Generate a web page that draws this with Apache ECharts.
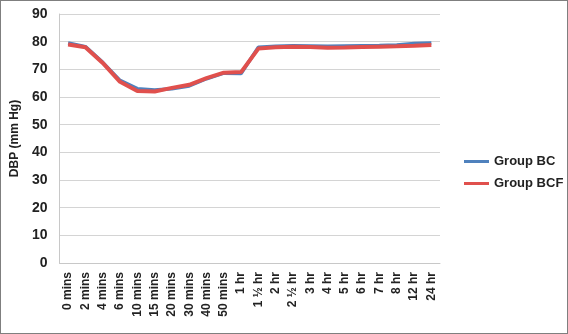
<!DOCTYPE html>
<html>
<head>
<meta charset="utf-8">
<script src="https://cdn.jsdelivr.net/npm/echarts@6/dist/echarts.min.js"></script>
<style>
  html, body { margin: 0; padding: 0; background: #fff; }
  #chart { width: 566px; height: 332px; border: 1px solid #7f7f7f; }
</style>
</head>
<body>
<div id="chart"></div>
<script>
// 时间点
var categories = ['0 mins', '2 mins', '4 mins', '6 mins', '10 mins', '15 mins', '20 mins', '30 mins',
  '40 mins', '50 mins', '1 hr', '1 ½ hr', '2 hr', '2 ½ hr', '3 hr', '4 hr', '5 hr', '6 hr',
  '7 hr', '8 hr', '12 hr', '24 hr']

// DBP 数值
var groupBC = [79.5, 78.2, 72.5, 66, 63, 62.5, 63, 64, 66.6, 68.6, 68.5,
  78, 78.3, 78.5, 78.4, 78.3, 78.4, 78.5, 78.6, 78.8, 79.3, 79.5]
var groupBCF = [79, 78, 72.3, 65.5, 62.2, 62, 63.3, 64.4, 66.8, 68.8, 69,
  77.5, 78, 78.2, 78.1, 77.8, 77.9, 78.1, 78.2, 78.3, 78.5, 78.8]

var myChart = echarts.init(document.getElementById('chart'))

var option = {
  backgroundColor: '#fff',
  animation: false,
  grid: {
    left: 56,
    right: 127,
    top: 13,
    bottom: 70,
  },
  legend: {
    orient: 'vertical',
    left: 458,
    top: 149,
    itemWidth: 25,
    itemHeight: 3,
    itemGap: 9,
    icon: 'rect',
    textStyle: {
      fontFamily: 'Liberation Sans',
      fontWeight: 'bold',
      fontSize: 13,
      color: '#222',
    },
    data: ['Group BC', 'Group BCF'],
  },
  xAxis: {
    type: 'category',
    data: categories,
    boundaryGap: true,
    axisLine: { lineStyle: { color: '#c8c8c8' } },
    axisTick: { show: false },
    axisLabel: {
      rotate: 90,
      interval: 0,
      margin: 9,
      fontFamily: 'Liberation Sans',
      fontWeight: 'bold',
      fontSize: 12,
      color: '#222',
    },
  },
  yAxis: {
    type: 'value',
    min: 0,
    max: 90,
    interval: 10,
    name: 'DBP (mm Hg)',
    nameLocation: 'middle',
    nameGap: 38,
    nameTextStyle: {
      fontFamily: 'Liberation Sans',
      fontWeight: 'bold',
      fontSize: 12,
      color: '#222',
    },
    axisLine: { show: true, lineStyle: { color: '#c8c8c8' } },
    axisTick: { show: false },
    axisLabel: {
      margin: 12,
      fontFamily: 'Liberation Sans',
      fontWeight: 'bold',
      fontSize: 14,
      color: '#222',
    },
    splitLine: { lineStyle: { color: '#d4d4d4', width: 1 } },
  },
  series: [
    {
      name: 'Group BC',
      type: 'line',
      data: groupBC,
      showSymbol: false,
      symbol: 'none',
      color: '#4f81bd',
      lineStyle: { width: 3.5, color: '#4f81bd' },
    },
    {
      name: 'Group BCF',
      type: 'line',
      data: groupBCF,
      showSymbol: false,
      symbol: 'none',
      color: '#e0504d',
      lineStyle: { width: 4, color: '#e0504d' },
    },
  ],
}

myChart.setOption(option)
</script>
</body>
</html>
